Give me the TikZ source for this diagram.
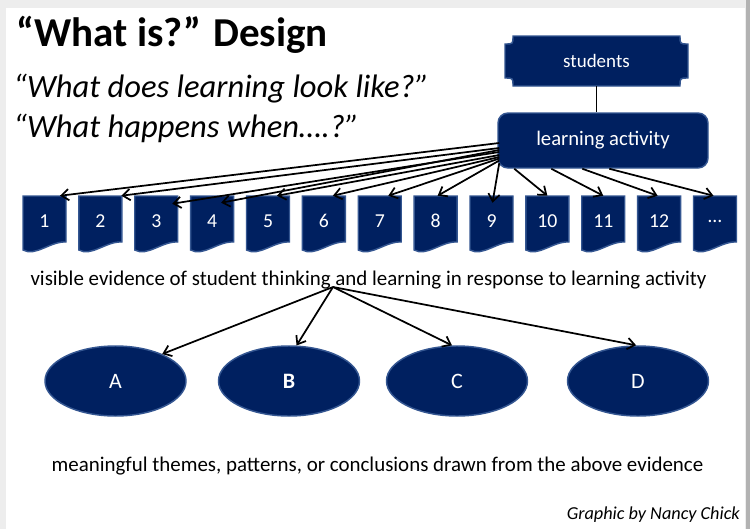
\documentclass[tikz,border=0pt]{standalone}
\usepackage{fontspec}
\setmainfont{Carlito}
\usetikzlibrary{arrows.meta,shapes.geometric,calc}
\definecolor{navyc}{RGB}{0,32,96}
\definecolor{navyedge}{RGB}{52,86,145}
\begin{document}
\begin{tikzpicture}[x=0.75pt,y=-0.75pt,
  navyshape/.style={fill=navyc, draw=navyedge, line width=1.1pt},
  whitetxt/.style={text=white, inner sep=0pt},
  docnode/.style={whitetxt, minimum width=32.25pt, minimum height=37.5pt, font=\fontsize{14.8}{17}\selectfont},
  ovalnode/.style={ellipse, navyshape, whitetxt, minimum width=105.75pt, minimum height=52.5pt, font=\fontsize{16.5}{19}\selectfont},
  arr/.style={-{Straight Barb[length=5.5pt,width=8.5pt]}, line width=1.3pt, black},
  bodytxt/.style={anchor=base, inner sep=0pt, font=\fontsize{15.7}{19}\selectfont}
]
\useasboundingbox (0,0) rectangle (750,529);
% slide background
\fill[black!7] (0,0) rectangle (750,529);
\fill[black!30] (746,0) rectangle (750,529);
\fill[white] (6,8) rectangle (745,529);

% title and questions
\node[anchor=base west, inner sep=0pt, font=\fontsize{30.8}{36}\selectfont\bfseries] (title) at (16,46) {“What is?” Design};
\node[anchor=base west, inner sep=0pt, font=\fontsize{24.4}{29}\selectfont\itshape] (q1) at (13,97) {“What does learning look like?”};
\node[anchor=base west, inner sep=0pt, font=\fontsize{24.4}{29}\selectfont\itshape] (q2) at (13,137) {“What happens when….?”};

% students plaque
\path[navyshape] (513,36) -- (680,36) .. controls (680,44) .. (688,44) -- (688,78)
  .. controls (680,78) .. (680,86) -- (513,86) .. controls (513,78) .. (505,78)
  -- (505,44) .. controls (513,44) .. (513,36) -- cycle;
\node[whitetxt, minimum width=137.25pt, minimum height=37.5pt, font=\fontsize{14.25}{17}\selectfont] (st) at (596.5,61) {students};

% learning activity
\node[navyshape, whitetxt, rounded corners=7.5pt, minimum width=157.5pt, minimum height=41.25pt, font=\fontsize{15.5}{18}\selectfont] (la) at (603,140.5) {learning activity};
\draw[line width=1pt] (st.south) -- (st.south |- la.north);

% documents
\foreach \i/\t in {1/1,2/2,3/3,4/4,5/5,6/6,7/7,8/8,9/9,10/10,11/11,12/12,13/…}{
  \pgfmathsetmacro{\cx}{44.5+55.875*(\i-1)}
  \path[navyshape] (\cx-21.5,196) -- (\cx+21.5,196) -- (\cx+21.5,242)
     .. controls (\cx+6,241) and (\cx-9,257) .. (\cx-21.5,250) -- cycle;
  \node[docnode] (d\i) at (\cx,221) {\t};
}

% arrows from learning activity to documents
\draw[arr] ($(la.west)+(2,2.5)$) -- ($(d1.north)+(15.5,0)$);
\draw[arr] ($(la.west)+(2,7.5)$) -- ($(d2.north)+(21,0)$);
\draw[arr] ($(la.west)+(2,11.5)$) -- ($(d3.north)+(16,8)$);
\draw[arr] ($(la.west)+(2,9.5)$) -- ($(d4.north)+(9,7)$);
\draw[arr] ($(la.west)+(2,14.5)$) -- ($(d5.north)+(9,0)$);
\draw[arr] ($(la.west)+(2,16.5)$) -- ($(d6.north)+(9,0)$);
\draw[arr] ($(la.west)+(2,18)$) -- ($(d7.north)+(8.5,0)$);
\draw[arr] ($(la.west)+(2,20)$) -- ($(d8.north)+(2,0)$);
\draw[arr] ($(la.west)+(2,22.5)$) -- ($(d9.north)+(1,7)$);
\draw[arr] ($(la.south west)+(17,0)$) -- (d10.north);
\draw[arr] ($(la.south west)+(54,0)$) -- (d11.north);
\draw[arr] ($(la.south west)+(85,0)$) -- ($(d12.north)+(-1.5,0)$);
\draw[arr] ($(la.south west)+(112,0)$) -- ($(d13.north)+(-1.5,0)$);

% evidence text
\node[bodytxt] (ev) at (368.5,285) {visible evidence of student thinking and learning in response to learning activity};
\coordinate (evo) at ($(ev.base)+(-35.5,2)$);

% themes
\node[ovalnode] (A) at (115.5,381) {A};
\node[ovalnode] (B) at (289,381) {\bfseries B};
\node[ovalnode] (C) at (457,381) {C};
\node[ovalnode] (D) at (638,381) {D};
\draw[arr] (evo) -- (A.30);
\draw[arr] (evo) -- (B.78);
\draw[arr] (evo) -- (C.98);
\draw[arr] (evo) -- (D.93);

\node[bodytxt] (mt) at (377.5,471) {meaningful themes, patterns, or conclusions drawn from the above evidence};
\node[anchor=base east, inner sep=0pt, font=\fontsize{13.7}{16}\selectfont\itshape] (gr) at (740,519) {Graphic by Nancy Chick};
\end{tikzpicture}
\end{document}
